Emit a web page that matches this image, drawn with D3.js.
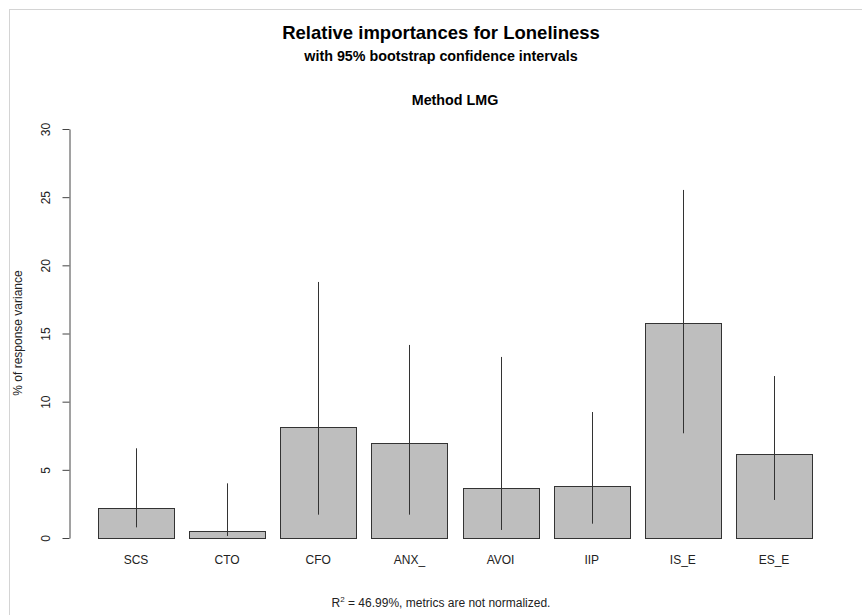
<!DOCTYPE html>
<html>
<head>
<meta charset="utf-8">
<script src="https://cdn.jsdelivr.net/npm/d3@7"></script>
<style>
  body { margin: 0; background: #fff; }
  svg { font-family: "Liberation Sans", Arial, sans-serif; }
</style>
</head>
<body>
<svg id="chart" width="862" height="615"></svg>
<script>
const CATEGORIES = ["SCS", "CTO", "CFO", "ANX_", "AVOI", "IIP", "IS_E", "ES_E"];
const IMPORTANCE = [2.18, 0.49, 8.12, 6.95, 3.67, 3.79, 15.79, 6.14];
const CI_LOWER = [0.78, 0.15, 1.71, 1.71, 0.59, 1.05, 7.68, 2.79];
const CI_UPPER = [6.58, 4.01, 18.78, 14.16, 13.28, 9.24, 25.53, 11.88];
const Y_TICKS = [0, 5, 10, 15, 20, 25, 30];

const svg = d3.select("#chart");
const width = +svg.attr("width"),
  height = +svg.attr("height");

// faint frame on the top and left edges
svg.append("line")
  .attr("x1", 9).attr("x2", width).attr("y1", 9.5).attr("y2", 9.5)
  .attr("stroke", "#d4d4d4");
svg.append("line")
  .attr("x1", 9.5).attr("x2", 9.5).attr("y1", 9).attr("y2", height)
  .attr("stroke", "#d4d4d4");

const data = CATEGORIES.map((c, i) => ({
  name: c,
  value: IMPORTANCE[i],
  lo: CI_LOWER[i],
  hi: CI_UPPER[i]
}));

// barplot spacing of 0.2 bar widths between bars
const x = d3.scaleBand()
  .domain(CATEGORIES)
  .range([98, 812])
  .paddingInner(1 / 6)
  .paddingOuter(0);

const y = d3.scaleLinear().domain([0, 30]).range([538, 129]);

// titles
svg.append("text")
  .attr("x", 441).attr("y", 39)
  .attr("text-anchor", "middle")
  .style("font-weight", "bold").style("font-size", "18.5px")
  .text("Relative importances for Loneliness");

svg.append("text")
  .attr("x", 441).attr("y", 61)
  .attr("text-anchor", "middle")
  .style("font-weight", "bold").style("font-size", "14.3px")
  .text("with 95% bootstrap confidence intervals");

svg.append("text")
  .attr("x", 455).attr("y", 105)
  .attr("text-anchor", "middle")
  .style("font-weight", "bold").style("font-size", "14.3px")
  .text("Method LMG");

// y axis
const yAxis = svg.append("g")
  .attr("transform", "translate(69.5,0)")
  .call(d3.axisLeft(y).tickValues(Y_TICKS).tickSize(7).tickSizeOuter(0));

yAxis.select(".domain").attr("stroke", "#444");
yAxis.selectAll(".tick line").attr("stroke", "#444");
yAxis.selectAll(".tick text")
  .attr("transform", "rotate(-90)")
  .attr("x", 0)
  .attr("y", -19.5)
  .attr("dy", 0)
  .attr("text-anchor", "middle")
  .style("font-size", "12px")
  .style("font-family", "'Liberation Sans', Arial, sans-serif")
  .attr("fill", "#222");

svg.append("text")
  .attr("transform", "translate(22,333) rotate(-90)")
  .attr("text-anchor", "middle")
  .style("font-size", "12px")
  .attr("fill", "#222")
  .text("% of response variance");

// bars
svg.selectAll("rect.bar")
  .data(data)
  .enter()
  .append("rect")
  .attr("class", "bar")
  .attr("x", d => Math.round(x(d.name)) + 0.5)
  .attr("y", d => Math.round(y(d.value)) + 0.5)
  .attr("width", Math.round(x.bandwidth()))
  .attr("height", d => Math.round(y(0)) - Math.round(y(d.value)))
  .attr("fill", "#bebebe")
  .attr("stroke", "#333")
  .attr("stroke-width", 1);

// confidence intervals
svg.selectAll("line.ci")
  .data(data)
  .enter()
  .append("line")
  .attr("class", "ci")
  .attr("x1", d => Math.round(x(d.name) + x.bandwidth() / 2) + 0.5)
  .attr("x2", d => Math.round(x(d.name) + x.bandwidth() / 2) + 0.5)
  .attr("y1", d => y(d.lo))
  .attr("y2", d => y(d.hi))
  .attr("stroke", "#333")
  .attr("stroke-width", 1);

// category labels
svg.selectAll("text.cat")
  .data(data)
  .enter()
  .append("text")
  .attr("class", "cat")
  .attr("x", d => x(d.name) + x.bandwidth() / 2)
  .attr("y", 564)
  .attr("text-anchor", "middle")
  .style("font-size", "12px")
  .attr("fill", "#222")
  .text(d => d.name);

// footnote
const note = svg.append("text")
  .attr("x", 441).attr("y", 607)
  .attr("text-anchor", "middle")
  .style("font-size", "12px")
  .attr("fill", "#222");
note.append("tspan").text("R");
note.append("tspan").attr("dy", -5).style("font-size", "8px").text("2");
note.append("tspan").attr("dy", 5).text(" = 46.99%, metrics are not normalized.");
</script>
</body>
</html>
